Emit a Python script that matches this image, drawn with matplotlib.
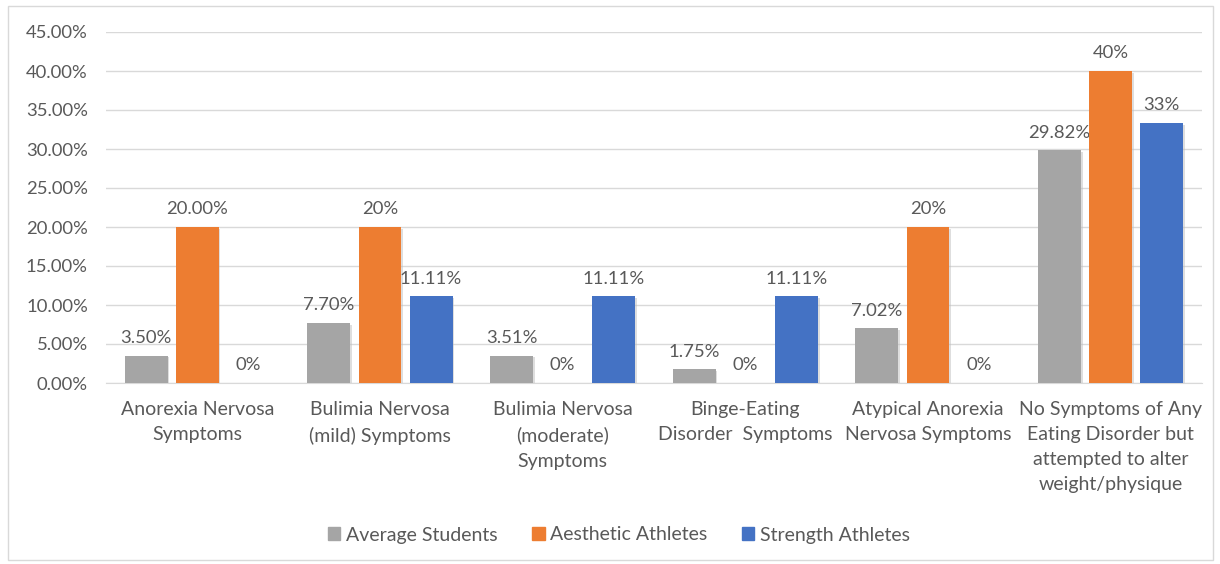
import matplotlib.pyplot as plt
import matplotlib.patches as mpatches
import matplotlib.patheffects as pe
import numpy as np

categories = [
    'Anorexia Nervosa\nSymptoms',
    'Bulimia Nervosa\n(mild) Symptoms',
    'Bulimia Nervosa\n(moderate)\nSymptoms',
    'Binge-Eating\nDisorder  Symptoms',
    'Atypical Anorexia\nNervosa Symptoms',
    'No Symptoms of Any\nEating Disorder but\nattempted to alter\nweight/physique',
]
series = ['Average Students', 'Aesthetic Athletes', 'Strength Athletes']
average = [0.0350, 0.0770, 0.0351, 0.0175, 0.0702, 0.2982]
aesthetic = [0.20, 0.20, 0.0, 0.0, 0.20, 0.40]
strength = [0.0, 0.1111, 0.1111, 0.1111, 0.0, 0.3333]
# decimals shown in each data label
average_dec = [2, 2, 2, 2, 2, 2]
aesthetic_dec = [2, 0, 0, 0, 0, 0]
strength_dec = [0, 2, 2, 2, 0, 0]
colors = ['#a5a5a5', '#ed7d31', '#4472c4']

plt.rcParams['font.family'] = ['Lato', 'DejaVu Sans']
text_col = '#595959'
grid_col = '#d9d9d9'

W, H = 1220, 564
fig = plt.figure(figsize=(W / 100, H / 100), dpi=100)
fig.patches.append(mpatches.Rectangle((8 / W, 4 / H), 1205 / W, 554 / H, transform=fig.transFigure,
                                      fill=False, edgecolor=grid_col, linewidth=1))
ax = fig.add_axes([106 / W, 1 - 383 / H, 1096 / W, 351 / H])

x = np.arange(len(categories))
bw = 0.235
step = 0.28
shadow = [pe.SimplePatchShadow(offset=(1.2, -1.2), shadow_rgbFace='#bfbfbf', alpha=0.5), pe.Normal()]
for i, (vals, decs) in enumerate(zip([average, aesthetic, strength],
                                     [average_dec, aesthetic_dec, strength_dec])):
    pos = x + (i - 1) * step
    bars = ax.bar(pos, vals, width=bw, color=colors[i], label=series[i], zorder=3)
    for b in bars:
        b.set_path_effects(shadow)
    for p, v, d in zip(pos, vals, decs):
        ax.annotate(f'{v * 100:.{d}f}%', (p, v), xytext=(0, 7), textcoords='offset points',
                    ha='center', va='bottom', fontsize=13.3, color=text_col)

ax.set_xlim(-0.5, len(categories) - 0.5)
ax.set_ylim(0, 0.45)
yt = np.arange(0, 0.451, 0.05)
ax.set_yticks(yt)
ax.set_yticklabels([f'{t * 100:.2f}%' for t in yt], fontsize=13.3)
ax.set_xticks(x)
ax.set_xticklabels(categories, linespacing=1.58, fontsize=14)
ax.tick_params(axis='both', length=0, labelcolor=text_col)
ax.tick_params(axis='y', pad=13)
ax.tick_params(axis='x', pad=13)
ax.grid(axis='y', color=grid_col, linewidth=1, zorder=0)
for s in ['top', 'right', 'left']:
    ax.spines[s].set_visible(False)
ax.spines['bottom'].set_color(grid_col)

handles = [mpatches.Patch(color=c, label=l) for c, l in zip(colors, series)]
fig.legend(handles=handles, loc='center', bbox_to_anchor=(619 / W, 1 - 535 / H), ncol=3,
           frameon=False, fontsize=14, labelcolor=text_col, handlelength=0.65, handleheight=0.65,
           handletextpad=0.3, columnspacing=1.75)

fig.savefig('out.png', dpi=100)
